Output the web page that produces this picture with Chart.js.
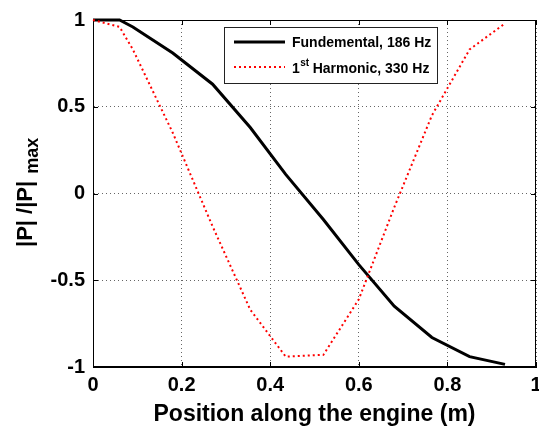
<!DOCTYPE html>
<html>
<head>
<meta charset="utf-8">
<script src="https://cdn.jsdelivr.net/npm/chart.js@4"></script>
<style>
  html, body { margin: 0; padding: 0; background: #fff; overflow: hidden; }
  #wrap { width: 560px; height: 428px; }
</style>
</head>
<body>
<div id="wrap"><canvas id="chart" width="560" height="428"></canvas></div>
<script>
// posisi sepanjang mesin (m)
const positions = [0, 0.06, 0.09, 0.18, 0.27, 0.355, 0.435, 0.52, 0.6, 0.68, 0.765, 0.85, 0.93];
// |P|/|P|max untuk mode dasar dan harmonik pertama
const fundamental = [1, 1, 0.96, 0.81, 0.63, 0.38, 0.11, -0.15, -0.41, -0.65, -0.83, -0.94, -0.985];
const harmonic = [1, 0.96, 0.83, 0.35, -0.19, -0.67, -0.94, -0.93, -0.61, -0.08, 0.45, 0.83, 0.98];

const xTickValues = [0, 0.2, 0.4, 0.6, 0.8, 1];
const xTickLabels = ['0', '0.2', '0.4', '0.6', '0.8', '1'];
const yTickValues = [-1, -0.5, 0, 0.5, 1];
const yTickLabels = ['-1', '-0.5', '0', '0.5', '1'];

const FONT = "'Liberation Sans', Arial, sans-serif";

function toPoints(ys) {
    return positions.map((x, i) => ({ x: x, y: ys[i] }));
}

// kotak, tanda tick ke dalam, judul sumbu y, legenda
const matlabLook = {
    id: 'matlabLook',
    beforeDatasetsDraw(chart) {
        const { ctx, chartArea: a, scales } = chart;
        ctx.save();
        ctx.strokeStyle = '#000';
        ctx.lineWidth = 1;
        ctx.strokeRect(a.left + 0.5, a.top + 0.5, a.right - a.left - 1, a.bottom - a.top - 1);
        ctx.beginPath();
        xTickValues.forEach(v => {
            const px = Math.round(scales.x.getPixelForValue(v)) + 0.5;
            ctx.moveTo(px, a.bottom); ctx.lineTo(px, a.bottom - 5);
            ctx.moveTo(px, a.top); ctx.lineTo(px, a.top + 5);
        });
        yTickValues.forEach(v => {
            const py = Math.round(scales.y.getPixelForValue(v)) + 0.5;
            ctx.moveTo(a.left, py); ctx.lineTo(a.left + 5, py);
            ctx.moveTo(a.right, py); ctx.lineTo(a.right - 5, py);
        });
        ctx.stroke();
        ctx.restore();
    },
    afterDraw(chart) {
        const { ctx } = chart;
        ctx.save();
        // judul sumbu y: |P| /|P|max
        ctx.translate(32, 247);
        ctx.rotate(-Math.PI / 2);
        ctx.fillStyle = '#000';
        ctx.textBaseline = 'alphabetic';
        ctx.font = 'bold 22px ' + FONT;
        const main = '|P| /|P|';
        ctx.fillText(main, 0, 0);
        const w = ctx.measureText(main).width;
        ctx.font = 'bold 18px ' + FONT;
        ctx.fillText('max', w + 7, 6);
        ctx.restore();

        // legenda
        ctx.save();
        ctx.fillStyle = '#fff';
        ctx.fillRect(224, 27, 214, 56);
        ctx.strokeStyle = '#222';
        ctx.lineWidth = 1;
        ctx.strokeRect(224.5, 27.5, 213, 56);

        ctx.strokeStyle = '#000';
        ctx.lineWidth = 3;
        ctx.beginPath(); ctx.moveTo(234, 42); ctx.lineTo(285, 42); ctx.stroke();

        ctx.strokeStyle = '#ff0000';
        ctx.lineWidth = 2;
        ctx.setLineDash([2, 3]);
        ctx.beginPath(); ctx.moveTo(234, 67); ctx.lineTo(285, 67); ctx.stroke();
        ctx.setLineDash([]);

        ctx.fillStyle = '#000';
        ctx.textBaseline = 'alphabetic';
        ctx.font = 'bold 14px ' + FONT;
        ctx.fillText('Fundemental, 186 Hz', 292, 47);
        ctx.fillText('1', 292, 73);
        let x = 292 + ctx.measureText('1').width;
        ctx.font = 'bold 10px ' + FONT;
        ctx.fillText('st', x + 0.5, 66);
        x += ctx.measureText('st').width + 4;
        ctx.font = 'bold 14px ' + FONT;
        ctx.fillText('Harmonic, 330 Hz', x, 73);
        ctx.restore();
    }
};

const config = {
    type: 'line',
    data: {
        datasets: [
            {
                label: 'Fundemental, 186 Hz',
                data: toPoints(fundamental),
                borderColor: '#000',
                borderWidth: 3,
                pointRadius: 0,
                fill: false,
                clip: false,
                order: 1
            },
            {
                label: '1st Harmonic, 330 Hz',
                data: toPoints(harmonic),
                borderColor: '#ff0000',
                borderWidth: 2,
                borderDash: [2, 3],
                pointRadius: 0,
                fill: false,
                clip: false,
                order: 0
            }
        ]
    },
    options: {
        responsive: false,
        animation: false,
        layout: { padding: { top: 15, right: 24, left: 0, bottom: 0 } },
        plugins: {
            legend: { display: false },
            tooltip: { enabled: false }
        },
        scales: {
            x: {
                type: 'linear',
                min: 0,
                max: 1,
                afterBuildTicks: s => { s.ticks = xTickValues.map(v => ({ value: v })); },
                afterFit: s => { s.height = 61; },
                ticks: {
                    autoSkip: false,
                    maxRotation: 0,
                    padding: 6,
                    color: '#000',
                    font: { family: FONT, size: 20, weight: 'bold' },
                    callback: (v, i) => xTickLabels[i]
                },
                grid: { color: '#666', drawTicks: false, lineWidth: 1 },
                border: { display: true, color: '#000', dash: [1, 3] },
                title: {
                    display: true,
                    text: 'Position along the engine (m)',
                    color: '#000',
                    padding: { top: 2, bottom: 0 },
                    font: { family: FONT, size: 23, weight: 'bold' }
                }
            },
            y: {
                type: 'linear',
                min: -1,
                max: 1,
                afterBuildTicks: s => { s.ticks = yTickValues.map(v => ({ value: v })); },
                afterFit: s => { s.width = 93; },
                ticks: {
                    padding: 8,
                    color: '#000',
                    font: { family: FONT, size: 20, weight: 'bold' },
                    callback: (v, i) => yTickLabels[i]
                },
                grid: { color: '#666', drawTicks: false, lineWidth: 1 },
                border: { display: true, color: '#000', dash: [1, 3] }
            }
        }
    },
    plugins: [matlabLook]
};

new Chart(document.getElementById('chart').getContext('2d'), config);
</script>
</body>
</html>
